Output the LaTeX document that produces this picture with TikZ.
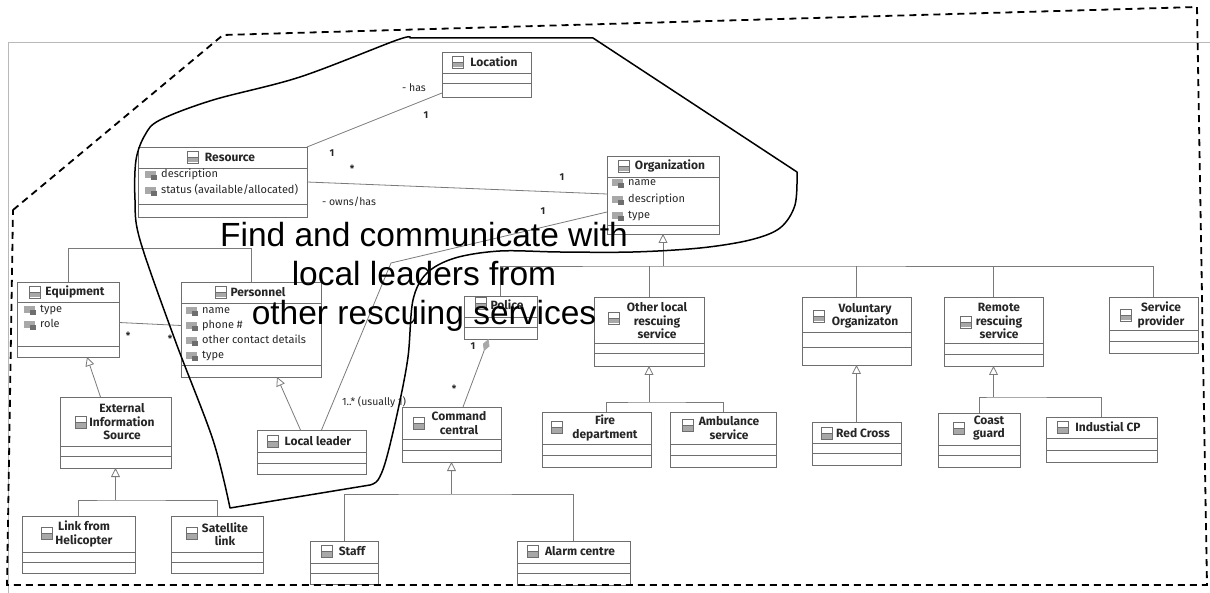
\documentclass[tikz,border=0pt]{standalone}
\usepackage{fontspec}
\newfontfamily\umlfont{Fira Sans}
\newfontfamily\bigfont{Liberation Sans}
\usetikzlibrary{arrows.meta,calc}
\definecolor{boxgray}{HTML}{6E6E6E}
\definecolor{linkgray}{HTML}{7A7A7A}
\definecolor{icongray}{HTML}{A8A8A8}

\tikzset{
  classbox/.style={draw=boxgray, line width=0.9pt, inner sep=0pt, outer sep=0pt},
  sepline/.style={draw=boxgray, line width=0.9pt},
  ctitle/.style={font=\umlfont\bfseries\fontsize{12}{13.5}\selectfont, inner sep=0pt, align=center, text=black!85},
  attr/.style={font=\umlfont\fontsize{11}{12}\selectfont, inner sep=0pt, anchor=west, text height=8pt, text depth=2.5pt, text=black!85},
  mult/.style={font=\umlfont\bfseries\fontsize{10}{12}\selectfont, inner sep=0pt, text=black!85},
  rolelabel/.style={font=\umlfont\fontsize{10.5}{12}\selectfont, inner sep=0pt, text=black!85},
  link/.style={draw=linkgray, line width=0.8pt},
  inherit/.style={link, -{Triangle[length=9pt,width=9pt,fill=white,line width=0.8pt]}},
  compose/.style={link, -{Diamond[length=13pt,width=7pt,fill=icongray,color=icongray]}},
  region/.style={draw=black, line width=1.8pt, dash pattern=on 7pt off 5pt},
  freehand/.style={draw=black, line width=1.5pt, line join=round},
  bigtext/.style={font=\bigfont\fontsize{33.5}{39}\selectfont, align=center, inner sep=0pt},
  clsicon/.pic={
    \draw[boxgray, fill=white, line width=0.6pt] (-5.5,-6) rectangle (5.5,6);
    \fill[icongray] (-5,0.5) rectangle (5,5.5);
    \draw[boxgray, line width=0.6pt] (-5.5,0) -- (5.5,0);
  },
  atticon/.pic={
    \fill[icongray] (-6,-4) rectangle (5,3);
    \fill[boxgray] (0,0) rectangle (6,5);
  }
}

% class box: name, x1, y1, x2, y2, first and second separator
\newcommand\umlclass[7]{%
  \node[classbox, minimum width={(#4-#2)*1pt}, minimum height={(#5-#3)*1pt}] (#1) at ({(#2+#4)/2},{(#3+#5)/2}) {};
  \draw[sepline] (#2,#6) -- (#4,#6);
  \draw[sepline] (#2,#7) -- (#4,#7);
}
% class title: name, text x, text y, text, icon x, icon y
\newcommand\umltitle[6]{%
  \node[ctitle] (#1-t) at (#2,#3) {#4};
  \pic at (#5,#6) {clsicon};
}
% attribute: name, x, y, text
\newcommand\umlattr[4]{%
  \pic at (#2-10,#3) {atticon};
  \node[attr] (#1) at (#2,#3) {#4};
}

\begin{document}
\begin{tikzpicture}[x=1pt,y=-1pt]
\useasboundingbox (0,0) rectangle (1210,593);

% page frame
\draw[gray!55, line width=0.6pt] (1210,42) -- (8,42) -- (8,593);

% classes
\umlclass{location}{442}{52}{531}{97}{73}{83}
\umlclass{resource}{138}{147}{307}{217}{168}{204}
\umlclass{organization}{607}{156}{719}{234}{177}{225}
\umlclass{equipment}{17}{282}{119}{357}{302}{346}
\umlclass{personnel}{181}{282}{321}{377}{303}{365}
\umlclass{external}{60}{397}{171}{468}{446}{456}
\umlclass{linkheli}{22}{516}{135}{573}{552}{562}
\umlclass{satellite}{171}{516}{263}{573}{552}{562}
\umlclass{localleader}{257}{430}{366}{474}{452}{463}
\umlclass{staff}{310}{541}{378}{584}{563}{573}
\umlclass{alarm}{517}{541}{630}{585}{563}{573}
\umlclass{command}{402}{407}{501}{462}{439}{450}
\umlclass{police}{464}{296}{537}{339}{317}{327}
\umlclass{otherlocal}{594}{297}{704}{366}{343}{353}
\umlclass{fire}{542}{412}{651}{467}{444}{455}
\umlclass{ambulance}{670}{412}{776}{467}{444}{455}
\umlclass{voluntary}{802}{297}{911}{365}{332}{347}
\umlclass{remote}{944}{297}{1043}{366}{343}{354}
\umlclass{provider}{1109}{297}{1198}{353}{330}{341}
\umlclass{redcross}{812}{422}{901}{465}{443}{453}
\umlclass{coast}{938}{413}{1020}{467}{445}{455}
\umlclass{industrial}{1046}{417}{1157}{462}{438}{450}

% titles
\umltitle{location}{494}{62}{Location}{458}{62}
\umltitle{resource}{230}{157}{Resource}{193}{157}
\umltitle{organization}{670}{166}{Organization}{624}{166}
\umltitle{equipment}{75}{292}{Equipment}{35}{292}
\umltitle{personnel}{258}{292}{Personnel}{221}{292}
\umltitle{external}{122}{422}{External\\Information\\Source}{81}{422}
\umltitle{linkheli}{84}{534}{Link from\\Helicopter}{47}{533}
\umltitle{satellite}{225}{534}{Satellite\\link}{192}{533}
\umltitle{localleader}{318}{441}{Local leader}{273}{441}
\umltitle{staff}{352}{551}{Staff}{327}{551}
\umltitle{alarm}{580}{551}{Alarm centre}{533}{551}
\umltitle{command}{459}{423}{Command\\central}{419}{423}
\umltitle{police}{507}{305}{Police}{481}{303}
\umltitle{otherlocal}{657}{321}{Other local\\rescuing\\service}{614}{318}
\umltitle{fire}{605}{428}{Fire\\department}{557}{427}
\umltitle{ambulance}{729}{428}{Ambulance\\service}{688}{425}
\umltitle{voluntary}{865}{316}{Voluntary\\Organizaton}{819}{316}
\umltitle{remote}{999}{321}{Remote\\rescuing\\service}{966}{322}
\umltitle{provider}{1161}{315}{Service\\provider}{1126}{315}
\umltitle{redcross}{863}{433}{Red Cross}{827}{433}
\umltitle{coast}{989}{428}{Coast\\guard}{959}{428}
\umltitle{industrial}{1108}{427}{Industial CP}{1063}{427}

% attributes
\umlattr{res-a1}{161}{175}{description}
\umlattr{res-a2}{161}{191}{status (available/allocated)}
\umlattr{org-a1}{628}{183}{name}
\umlattr{org-a2}{628}{200}{description}
\umlattr{org-a3}{628}{216}{type}
\umlattr{eq-a1}{40}{310}{type}
\umlattr{eq-a2}{40}{325}{role}
\umlattr{per-a1}{202}{311}{name}
\umlattr{per-a2}{202}{326}{phone \#}
\umlattr{per-a3}{202}{341}{other contact details}
\umlattr{per-a4}{202}{356}{type}

% associations
\draw[link] (resource.north east) -- ($(location.south west)+(0,-4)$);
\draw[link] (resource.east) -- ($(organization.west)+(0,-1)$);
\coordinate (llbend) at (391,263);
\draw[link] ($(organization.west)+(0,17)$) -- (llbend) -- ($(localleader.north)+(10,0)$);
\draw[link] ($(equipment.east)+(0,3)$) -- ($(personnel.west)+(0,-4)$);
\draw[compose] ($(command.north)+(11.5,0)$) -- ($(police.south)+(-12,0)$);

% generalisations
\draw[link] (equipment.north) -- ++(0,-34) -| (personnel.north);

\coordinate (orgbus) at (663,266);
\draw[inherit] (orgbus) -- (organization.south);
\draw[link] (police.north) |- (orgbus) -| (provider.north);
\draw[link] (otherlocal.north) -- (otherlocal.north |- orgbus);
\draw[link] (voluntary.north) -- (voluntary.north |- orgbus);
\draw[link] (remote.north) -- (remote.north |- orgbus);

\coordinate (olbus) at (649,402);
\draw[inherit] (olbus) -- (otherlocal.south);
\draw[link] ($(fire.north)+(10,0)$) |- (olbus) -| (ambulance.north);

\draw[inherit] (redcross.north) -- (voluntary.south);

\coordinate (rembus) at (993.5,397);
\draw[inherit] (rembus) -- (remote.south);
\draw[link] (coast.north) |- (rembus) -| (industrial.north);

\draw[inherit] ($(external.north)+(-15,0)$) -- ($(equipment.south)+(19,0)$);

\coordinate (extbus) at (115.5,500);
\draw[inherit] (extbus) -- (external.south);
\draw[link] (linkheli.north) |- (extbus) -| (satellite.north);

\draw[inherit] ($(localleader.north)+(-11,0)$) -- ($(personnel.south)+(26,0)$);

\coordinate (cmdbus) at (451.5,494);
\draw[inherit] (cmdbus) -- (command.south);
\draw[link] (staff.north) |- (cmdbus) -| (alarm.north);

% association end labels
\node[rolelabel] (l-has) at (414,88) {- has};
\node[mult] (m1) at (426,115) {1};
\node[mult] (m2) at (332,153) {1};
\node[mult] (m3) at (352,169) {*};
\node[rolelabel] (l-owns) at (349,202) {- owns/has};
\node[mult] (m4) at (562,177) {1};
\node[mult] (m5) at (543,211) {1};
\node[rolelabel] (l-usually) at (374,402) {1..* (usually 1)};
\node[mult] (m6) at (128,336) {*};
\node[mult] (m7) at (170,339) {*};
\node[mult] (m8) at (473,346) {1};
\node[mult] (m9) at (454,389) {*};

% dashed region
\draw[region] (13,210) -- (223,35) -- (1197,7) -- (1207,585) -- (7,585) -- cycle;

% freehand outline around the task
\draw[freehand] (593,38) -- (797,172)
  -- plot[smooth, tension=0.55] coordinates {(797,172) (795,205) (780,228) (750,240) (700,248) (633,252) (560,252) (500,251) (455,258) (427,273) (413,300) (408,357) (398,410) (386,460) (378,480) (370,485)}
  -- plot[smooth, tension=0.55] coordinates {(230,508) (213,440) (175,340) (140,240) (135,200) (136,160) (145,135) (160,120) (213,100) (300,77) (397,40) (410,38)}
  -- cycle;

% task text
\node[bigtext] (task) at (424,277) {Find and communicate with\\local leaders from\\other rescuing services};
\end{tikzpicture}
\end{document}
